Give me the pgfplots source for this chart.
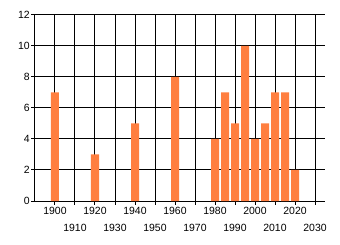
\documentclass[border=0pt]{standalone}
\usepackage{pgfplots}
\pgfplotsset{compat=1.18}
\usepackage{fontspec}
\setmainfont{Liberation Sans}
\definecolor{barorange}{RGB}{255,127,64}
\begin{document}
\begin{tikzpicture}
\begin{axis}[
  scale only axis,
  width=290bp, height=186bp,
  xmin=1890, xmax=2035,
  ymin=0, ymax=12,
  ytick={0,2,...,12},
  xtick={1900,1920,...,2020},
  extra x ticks={1910,1930,...,2030},
  extra x tick style={xticklabel style={yshift=-17bp}, grid=major},
  axis lines=left,
  axis line style={-, line width=1bp, black},
  grid=major,
  major grid style={line width=1bp, black},
  tick align=outside,
  major tick length=3.5bp,
  tick style={line width=1bp, black},
  xticklabel style={inner sep=1bp, yshift=-1bp},
  yticklabel style={inner sep=1.5bp},
  tick label style={font=\fontsize{10.5}{12}\selectfont},
  /pgf/number format/assume math mode=true,
  /pgf/number format/1000 sep={},
  clip=false,
]
\addplot[ybar, bar width=8bp, bar shift=0pt, fill=barorange, draw=none] coordinates {
(1900,7) (1920,3) (1940,5) (1960,8) (1980,4) (1985,7) (1990,5) (1995,10) (2000,4) (2005,5) (2010,7) (2015,7) (2020,2)
};
\end{axis}
\path[use as bounding box] (-35bp,-44bp) rectangle (305bp,201bp);
\end{tikzpicture}
\end{document}
